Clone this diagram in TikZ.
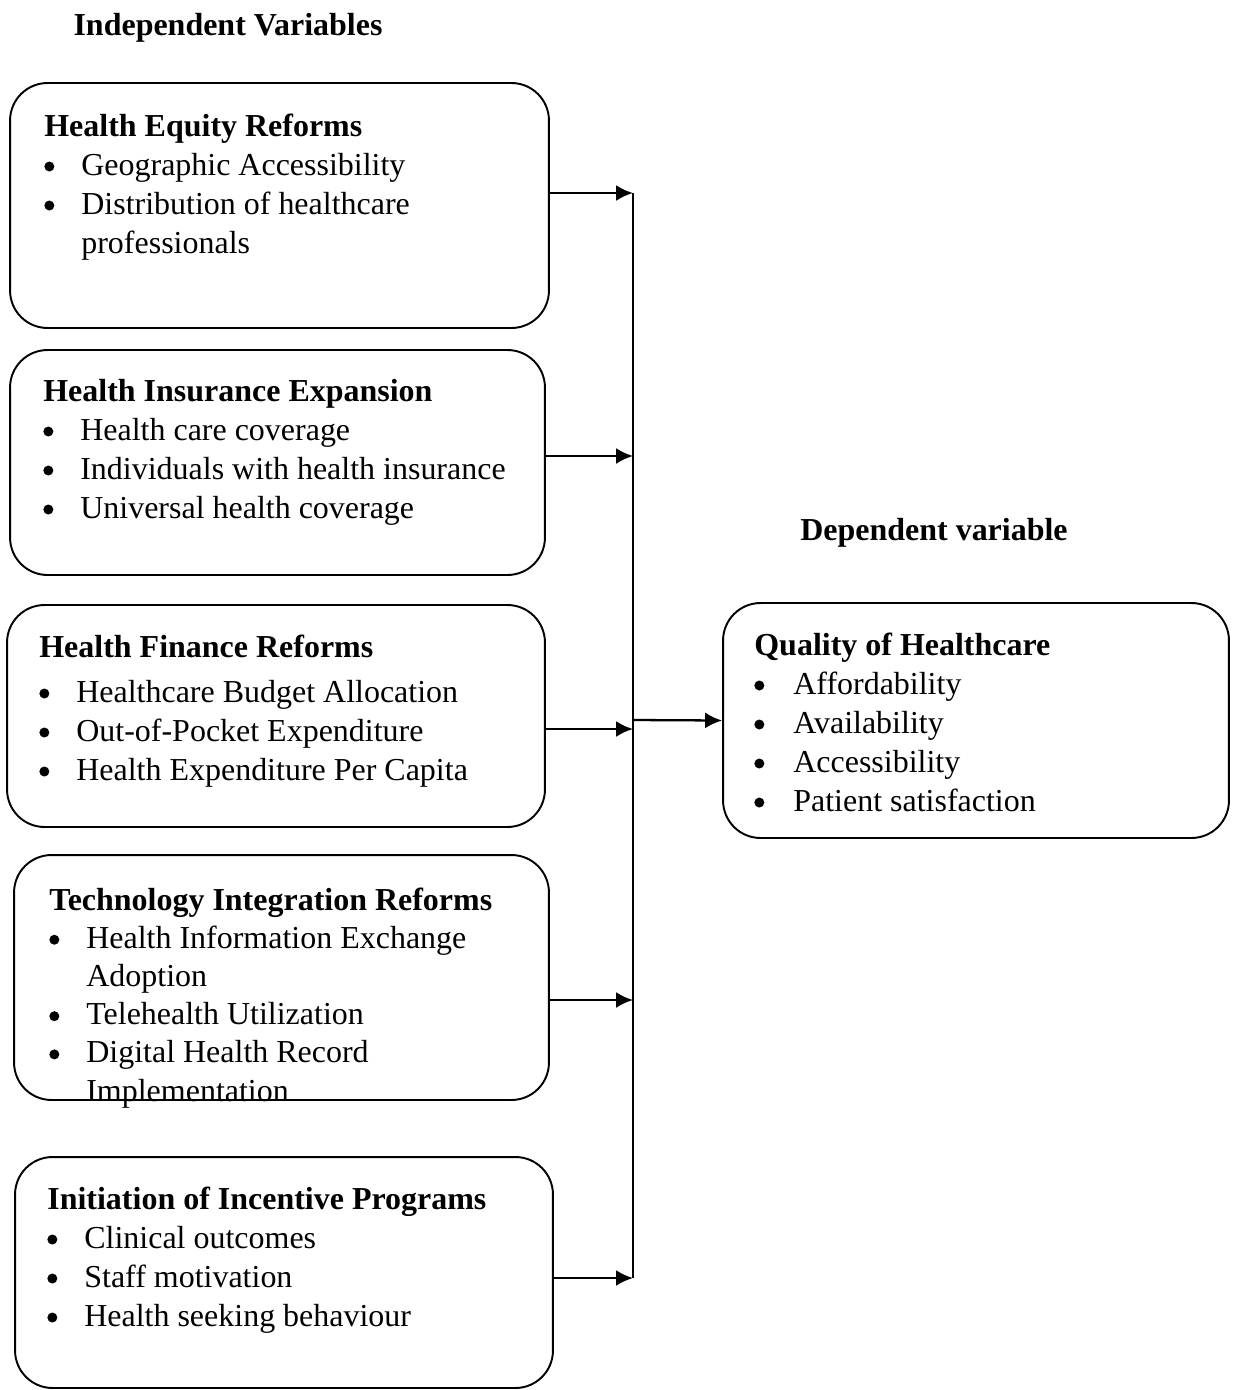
\documentclass[tikz,border=0pt]{standalone}
\usepackage{fontspec}
\setmainfont{Liberation Serif}
\usetikzlibrary{arrows.meta}
\newcommand{\bl}[1][0.74cm]{\makebox[#1][l]{\tikz[baseline=-0.17cm]\fill (0.13cm,0) circle (0.1cm);}}
\tikzset{
  vbox/.style={draw, line width=1.1pt, rounded corners=0.75cm, inner sep=0pt},
  vtext/.style={anchor=base west, inner sep=0pt, font=\fontsize{18.2}{22.2}\selectfont},
  vhead/.style={anchor=base, inner sep=0pt, font=\fontsize{18.2}{22.2}\selectfont\bfseries},
  arr/.style={->, >={Latex[length=0.34cm,width=0.32cm]}, line width=1.3pt},
}
\begin{document}
\begin{tikzpicture}[x=0.02cm, y=-0.02cm]
\useasboundingbox (0,0) rectangle (1236,1390);
% headings
\node[vhead] (indep) at (228,35) {Independent Variables};
\node[vhead] (dep) at (934,540) {Dependent variable};
% boxes
\node[vbox, minimum width=10.78cm, minimum height=4.9cm] (equity) at (279.5,205.5) {};
\node[vbox, minimum width=10.7cm, minimum height=4.5cm] (insurance) at (277.5,462.5) {};
\node[vbox, minimum width=10.76cm, minimum height=4.44cm] (finance) at (276,716) {};
\node[vbox, minimum width=10.7cm, minimum height=4.9cm] (technology) at (281.5,977.5) {};
\node[vbox, minimum width=10.76cm, minimum height=4.62cm] (incentive) at (284,1272.5) {};
\node[vbox, minimum width=10.12cm, minimum height=4.7cm] (quality) at (976,720.5) {};
% box texts
\node[vtext] (equitytxt) at (44,136) {\begin{tabular}[t]{@{}l@{}l@{}}
\multicolumn{2}{@{}l@{}}{\textbf{Health Equity Reforms}}\\
\bl & Geographic Accessibility\\
\bl & Distribution of healthcare\\
 & professionals
\end{tabular}};
\node[vtext] (insurancetxt) at (43,401) {\begin{tabular}[t]{@{}l@{}l@{}}
\multicolumn{2}{@{}l@{}}{\textbf{Health Insurance Expansion}}\\
\bl & Health care coverage\\
\bl & Individuals with health insurance\\
\bl & Universal health coverage
\end{tabular}};
\node[vtext] (financetxt) at (39,657) {\begin{tabular}[t]{@{}l@{}l@{}}
\multicolumn{2}{@{}l@{}}{\textbf{Health Finance Reforms}}\\[0.12cm]
\bl & Healthcare Budget Allocation\\
\bl & Out-of-Pocket Expenditure\\
\bl & Health Expenditure Per Capita
\end{tabular}};
\node[vtext] (technologytxt) at (49,910) {\renewcommand{\arraystretch}{0.98}\begin{tabular}[t]{@{}l@{}l@{}}
\multicolumn{2}{@{}l@{}}{\textbf{Technology Integration Reforms}}\\
\bl & Health Information Exchange\\
 & Adoption\\
\bl & Telehealth Utilization\\
\bl & Digital Health Record\\
 & Implementation
\end{tabular}};
\node[vtext] (incentivetxt) at (47,1209) {\begin{tabular}[t]{@{}l@{}l@{}}
\multicolumn{2}{@{}l@{}}{\textbf{Initiation of Incentive Programs}}\\
\bl & Clinical outcomes\\
\bl & Staff motivation\\
\bl & Health seeking behaviour
\end{tabular}};
\node[vtext] (qualitytxt) at (754,655) {\begin{tabular}[t]{@{}l@{}l@{}}
\multicolumn{2}{@{}l@{}}{\textbf{Quality of Healthcare}}\\
\bl[0.78cm] & Affordability\\
\bl[0.78cm] & Availability\\
\bl[0.78cm] & Accessibility\\
\bl[0.78cm] & Patient satisfaction
\end{tabular}};
% connectors
\coordinate (b1) at (633,193);
\coordinate (b2) at (633,456);
\coordinate (b3) at (633,729);
\coordinate (b4) at (633,1000);
\coordinate (b5) at (633,1278);
\coordinate (bq) at (633,720);
\draw[line width=0.9pt] (b1) -- (b5);
\draw[arr] (equity.east |- b1) -- (b1);
\draw[arr] (insurance.east |- b2) -- (b2);
\draw[arr] (finance.east |- b3) -- (b3);
\draw[arr] (technology.east |- b4) -- (b4);
\draw[arr] (incentive.east |- b5) -- (b5);
\draw[arr] (bq) -- (quality.west);
\end{tikzpicture}
\end{document}
